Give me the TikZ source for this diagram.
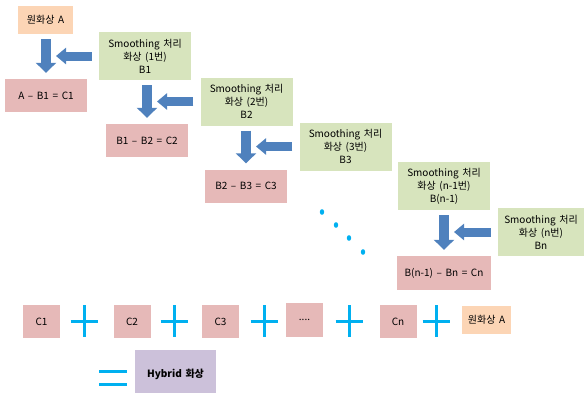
\documentclass[tikz,border=0pt]{standalone}
\usepackage{fontspec}
\setmainfont[WordSpace=1.6]{Noto Sans CJK KR}
\usepackage{tikz}
\usetikzlibrary{arrows.meta,positioning,calc}

\definecolor{srcorange}{HTML}{FCD5B5}
\definecolor{diffpink}{HTML}{E6B9B8}
\definecolor{smoothgreen}{HTML}{D7E4BD}
\definecolor{hybpurple}{HTML}{CCC1DA}
\definecolor{arrowblue}{HTML}{4F81BD}
\definecolor{plusblue}{HTML}{00B0F0}

\begin{document}
\begin{tikzpicture}[x=1pt,y=-1pt,
  box/.style={draw=none,inner sep=0pt,align=center,font=\fontsize{10}{13}\selectfont},
  srcbox/.style={box,fill=srcorange,minimum width=55pt,minimum height=28pt},
  smoothbox/.style={box,fill=smoothgreen,minimum width=92pt,minimum height=48pt},
  diffbox/.style={box,fill=diffpink,minimum width=82pt,minimum height=33pt},
  sumbox/.style={box,fill=diffpink,minimum width=37pt,minimum height=33pt},
  blockarrow/.style={draw=arrowblue,line width=10pt,-{Triangle[length=10pt,width=#1]}},
  blockarrow/.default=20pt,
  plusbar/.style={draw=plusblue,line width=3pt}]

\useasboundingbox (0,0) rectangle (584,392);

% first column
\node[srcbox] (srcA) at (45.5,20) {원화상 A};
\node[diffbox] (c1) at (46,95.5) {A – B1 = C1};
\node[smoothbox] (b1) at (145,56) {Smoothing 처리\\화상 (1번)\\B1};

\node[smoothbox] (b2) at (246.5,101.5) {Smoothing 처리\\화상 (2번)\\B2};
\node[diffbox] (c2) at (147,140.5) {B1 – B2 = C2};

\node[smoothbox] (b3) at (345.5,146.5) {Smoothing 처리\\화상 (3번)\\B3};
\node[diffbox] (c3) at (246,186) {B2 – B3 = C3};

\node[smoothbox] (bn1) at (444,186) {Smoothing 처리\\화상 (n-1번)\\B(n-1)};
\node[smoothbox,minimum width=86pt] (bn) at (541,232) {Smoothing 처리\\화상 (n번)\\Bn};
\node[diffbox,minimum width=94pt,minimum height=34pt] (cn) at (444,273) {B(n-1) – Bn = Cn};

% down arrows
\draw[blockarrow,shorten <=5pt,shorten >=6pt] (c1.north |- srcA.south) -- (c1.north);
\draw[blockarrow,shorten <=5pt,shorten >=6pt] (c2.north |- b1.south) -- (c2.north);
\draw[blockarrow,shorten <=5pt,shorten >=6pt] (c3.north |- b2.south) -- (c3.north);
\draw[blockarrow,shorten <=5pt,shorten >=6pt] (cn.north |- bn1.south) -- (cn.north);

% left arrows
\draw[blockarrow=16pt,line width=9pt,shorten <=7pt,shorten >=10pt] (b1.west) -- (b1.west -| c1.north);
\draw[blockarrow=16pt,line width=9pt,shorten <=7pt,shorten >=10pt] (b2.west) -- (b2.west -| c2.north);
\draw[blockarrow=16pt,line width=9pt,shorten <=7pt,shorten >=10pt] (b3.west) -- (b3.west -| c3.north);
\draw[blockarrow=16pt,line width=9pt,shorten <=7pt,shorten >=10pt] (bn.west) -- (bn.west -| cn.north);

\foreach \dx/\dy in {322/212,336/225,349/238,363/252}
  \fill[plusblue] (\dx,\dy) ellipse (2.2pt and 2.8pt);

% sum row
\node[sumbox] (s1) at (41.5,321.5) {C1};
\node[sumbox] (s2) at (132,321.5) {C2};
\node[sumbox] (s3) at (220.5,321.5) {C3};
\node[sumbox,minimum height=34pt] (sdots) at (304.5,320) {....};
\node[sumbox] (sn) at (398,321.5) {Cn};
\node[srcbox,minimum width=49pt] (srcsum) at (486.5,320) {원화상 A};

\foreach \px in {84,174,264,349,436}
  \draw[plusbar] (\px-13.5,321) -- (\px+13.5,321) (\px,305) -- (\px,337);

\draw[plusbar] (99,371) -- (127,371) (99,384) -- (127,384);
\node[box,fill=hybpurple,minimum width=81pt,minimum height=48pt,font=\fontsize{10}{12}\selectfont\bfseries] (hyb) at (175.5,374) {Hybrid 화상};

\end{tikzpicture}
\end{document}
